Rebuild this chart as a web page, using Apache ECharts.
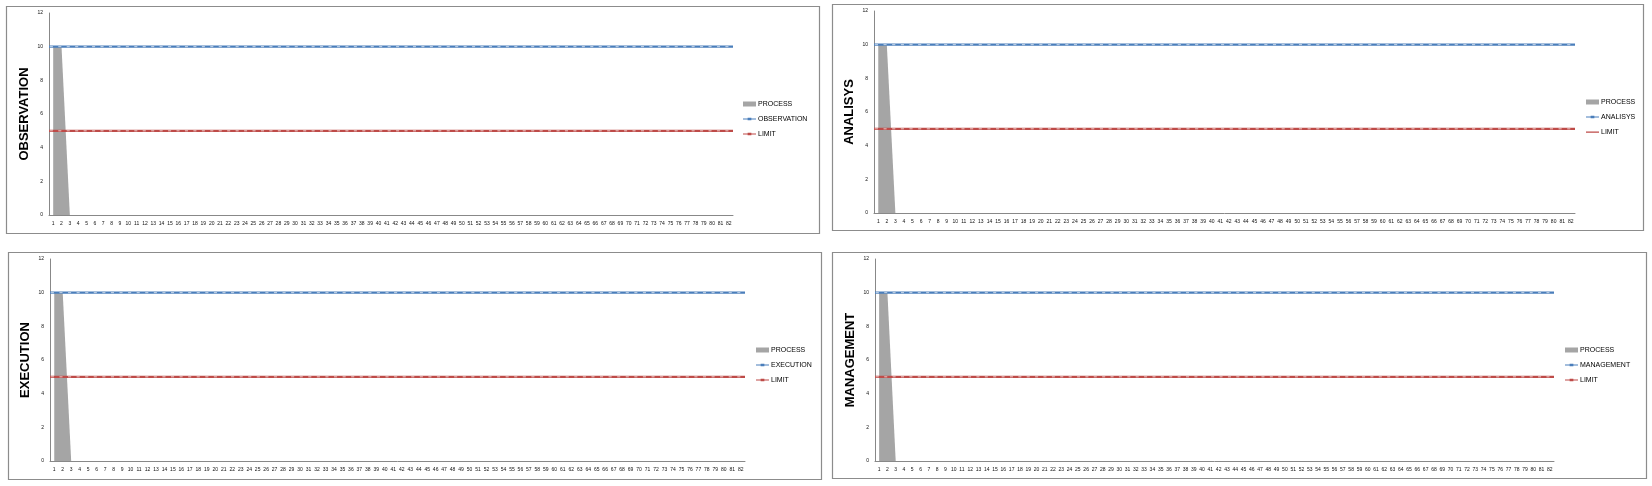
<!DOCTYPE html>
<html>
<head>
<meta charset="utf-8">
<script src="https://cdn.jsdelivr.net/npm/echarts@6/dist/echarts.min.js"></script>
<style>
html,body{margin:0;padding:0;background:#fff;}
#c{width:1652px;height:486px;}
</style>
</head>
<body>
<div id="c"></div>
<script>
// ---- data ----
const categories = ['1','2','3','4','5','6','7','8','9','10','11','12','13','14','15','16','17','18','19','20','21','22','23','24','25','26','27','28','29','30','31','32','33','34','35','36','37','38','39','40','41','42','43','44','45','46','47','48','49','50','51','52','53','54','55','56','57','58','59','60','61','62','63','64','65','66','67','68','69','70','71','72','73','74','75','76','77','78','79','80','81','82'];
const PROCESS = [10, 10, 0];
const OBSERVATION = [10,10,10,10,10,10,10,10,10,10,10,10,10,10,10,10,10,10,10,10,10,10,10,10,10,10,10,10,10,10,10,10,10,10,10,10,10,10,10,10,10,10,10,10,10,10,10,10,10,10,10,10,10,10,10,10,10,10,10,10,10,10,10,10,10,10,10,10,10,10,10,10,10,10,10,10,10,10,10,10,10,10];
const ANALISYS = [10,10,10,10,10,10,10,10,10,10,10,10,10,10,10,10,10,10,10,10,10,10,10,10,10,10,10,10,10,10,10,10,10,10,10,10,10,10,10,10,10,10,10,10,10,10,10,10,10,10,10,10,10,10,10,10,10,10,10,10,10,10,10,10,10,10,10,10,10,10,10,10,10,10,10,10,10,10,10,10,10,10];
const EXECUTION = [10,10,10,10,10,10,10,10,10,10,10,10,10,10,10,10,10,10,10,10,10,10,10,10,10,10,10,10,10,10,10,10,10,10,10,10,10,10,10,10,10,10,10,10,10,10,10,10,10,10,10,10,10,10,10,10,10,10,10,10,10,10,10,10,10,10,10,10,10,10,10,10,10,10,10,10,10,10,10,10,10,10];
const MANAGEMENT = [10,10,10,10,10,10,10,10,10,10,10,10,10,10,10,10,10,10,10,10,10,10,10,10,10,10,10,10,10,10,10,10,10,10,10,10,10,10,10,10,10,10,10,10,10,10,10,10,10,10,10,10,10,10,10,10,10,10,10,10,10,10,10,10,10,10,10,10,10,10,10,10,10,10,10,10,10,10,10,10,10,10];
const LIMIT = [5,5,5,5,5,5,5,5,5,5,5,5,5,5,5,5,5,5,5,5,5,5,5,5,5,5,5,5,5,5,5,5,5,5,5,5,5,5,5,5,5,5,5,5,5,5,5,5,5,5,5,5,5,5,5,5,5,5,5,5,5,5,5,5,5,5,5,5,5,5,5,5,5,5,5,5,5,5,5,5,5,5];
const panelNames = ['OBSERVATION', 'ANALISYS', 'EXECUTION', 'MANAGEMENT'];
const panelValues = [OBSERVATION, ANALISYS, EXECUTION, MANAGEMENT];
const yMin = 0, yMax = 12, yStep = 2;

// ---- layout (positions / styles) ----
const layout = [
  {grid:{left:49, top:13, width:684, height:202}, box:[6,6,813,227], legend:{left:743, top:99}, limitIcon:'marker'},
  {grid:{left:874, top:11, width:701, height:202}, box:[832,4,811,226], legend:{left:1586, top:97}, limitIcon:'plain'},
  {grid:{left:50, top:259, width:695, height:202}, box:[8,252,813,227], legend:{left:756, top:345}, limitIcon:'marker'},
  {grid:{left:875, top:259, width:679, height:202}, box:[832,252,814,226], legend:{left:1565, top:345}, limitIcon:'marker'}
];
const GRAY = '#a5a5a5', BLUE = '#4a7ebb', RED = '#be4b48';
const FONT = 'Liberation Sans, Arial, sans-serif';
const ICON_RECT = 'path://M0,0 L13,0 L13,5 L0,5 Z';
const ICON_LINE_MARK = 'path://M0,2 L14,2 L14,3.2 L0,3.2 Z M5,1.2 L9,1.2 L9,4 L5,4 Z';
const ICON_LINE = 'path://M0,2 L14,2 L14,3.2 L0,3.2 Z M0,0 L0.01,0 L0.01,5 L0,5 Z';

const grids = [], xAxes = [], yAxes = [], series = [], legends = [], graphics = [];
layout.forEach((L, i) => {
  grids.push(Object.assign({containLabel:false}, L.grid));
  graphics.push({type:'rect', shape:{x:L.box[0]+0.5, y:L.box[1]+0.5, width:L.box[2], height:L.box[3]},
    style:{fill:'none', stroke:'#8c8c8c', lineWidth:1.2}, silent:true, z:-10});
  xAxes.push({type:'category', gridIndex:i, data:categories, boundaryGap:true,
    axisLine:{show:true, lineStyle:{color:'#888888', width:1}}, axisTick:{show:false},
    axisLabel:{interval:0, fontSize:5, color:'#111', margin:6, fontFamily:FONT},
    splitLine:{show:false}});
  xAxes.push({type:'category', gridIndex:i, data:categories, boundaryGap:false, show:false});
  yAxes.push({type:'value', gridIndex:i, min:yMin, max:yMax, interval:yStep,
    name:panelNames[i], nameLocation:'middle', nameRotate:90, nameGap:18,
    nameTextStyle:{fontSize:13, fontWeight:'bold', color:'#000', fontFamily:FONT},
    axisLine:{show:true, lineStyle:{color:'#888888', width:1}}, axisTick:{show:false},
    axisLabel:{fontSize:5, color:'#111', margin:6, fontFamily:FONT},
    splitLine:{show:false}});
  const period = L.grid.width / (categories.length - 1);
  series.push({name:'PROCESS', type:'line', xAxisIndex:2*i, yAxisIndex:i, data:PROCESS,
    symbol:'none', lineStyle:{width:0, color:GRAY}, itemStyle:{color:GRAY},
    areaStyle:{color:GRAY, opacity:1}, z:2, animation:false});
  series.push({name:panelNames[i], type:'line', xAxisIndex:2*i+1, yAxisIndex:i, data:panelValues[i],
    symbol:'none', lineStyle:{width:2.2, color:BLUE}, itemStyle:{color:BLUE}, z:3, animation:false});
  series.push({name:panelNames[i] + ' dash', type:'line', xAxisIndex:2*i+1, yAxisIndex:i, data:panelValues[i],
    symbol:'none', lineStyle:{width:0.7, color:'#ffffff', type:[period*0.36, period*0.64], dashOffset:-period*0.1},
    z:4, animation:false, silent:true, tooltip:{show:false}});
  series.push({name:'LIMIT', type:'line', xAxisIndex:2*i+1, yAxisIndex:i, data:LIMIT,
    symbol:'none', lineStyle:{width:2.2, color:RED}, itemStyle:{color:RED}, z:3, animation:false});
  series.push({name:'LIMIT dash', type:'line', xAxisIndex:2*i+1, yAxisIndex:i, data:LIMIT,
    symbol:'none', lineStyle:{width:0.7, color:'#ffffff', type:[period*0.36, period*0.64], dashOffset:-period*0.1},
    z:4, animation:false, silent:true, tooltip:{show:false}});
  legends.push({orient:'vertical', left:L.legend.left, top:L.legend.top, itemWidth:13, itemHeight:5,
    itemGap:5, selectedMode:false, padding:0,
    textStyle:{fontSize:7, color:'#000', fontFamily:FONT, lineHeight:10, padding:[0,0,0,-3]},
    data:[
      {name:'PROCESS', icon:ICON_RECT},
      {name:panelNames[i], icon:ICON_LINE_MARK},
      {name:'LIMIT', icon: L.limitIcon === 'plain' ? ICON_LINE : ICON_LINE_MARK}
    ]});
});

const chart = echarts.init(document.getElementById('c'), null, {renderer:'canvas'});
chart.setOption({
  backgroundColor:'#ffffff',
  animation:false,
  grid:grids, xAxis:xAxes, yAxis:yAxes, series:series, legend:legends,
  graphic:graphics
});
</script>
</body>
</html>
